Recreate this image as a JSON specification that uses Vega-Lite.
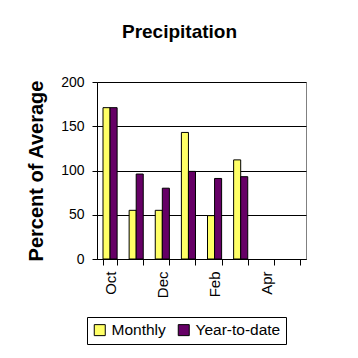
{
  "$schema": "https://vega.github.io/schema/vega-lite/v6.json",
  "autosize": "none",
  "width": 209,
  "height": 177,
  "padding": {"left": 97, "top": 82, "right": 52, "bottom": 99},
  "background": "white",
  "config": {
    "font": "Liberation Sans",
    "view": {"stroke": "#808080", "strokeWidth": 1}
  },
  "title": {
    "text": "Precipitation",
    "font": "Liberation Sans",
    "fontSize": 19,
    "fontWeight": "bold",
    "color": "black",
    "anchor": "middle",
    "dx": -22,
    "offset": 33
  },
  "data": {
    "values": [
      {"month": "Oct", "series": "Monthly", "value": 171},
      {"month": "Oct", "series": "Year-to-date", "value": 171},
      {"month": "Nov", "series": "Monthly", "value": 55},
      {"month": "Nov", "series": "Year-to-date", "value": 96},
      {"month": "Dec", "series": "Monthly", "value": 55},
      {"month": "Dec", "series": "Year-to-date", "value": 80},
      {"month": "Jan", "series": "Monthly", "value": 143},
      {"month": "Jan", "series": "Year-to-date", "value": 99},
      {"month": "Feb", "series": "Monthly", "value": 49},
      {"month": "Feb", "series": "Year-to-date", "value": 91},
      {"month": "Mar", "series": "Monthly", "value": 112},
      {"month": "Mar", "series": "Year-to-date", "value": 93}
    ]
  },
  "mark": {"type": "bar", "stroke": "black", "strokeWidth": 1},
  "encoding": {
    "x": {
      "field": "month",
      "type": "nominal",
      "sort": null,
      "scale": {"domain": ["Oct", "Nov", "Dec", "Jan", "Feb", "Mar", "Apr", "May"], "paddingInner": 0.46, "paddingOuter": 0.23},
      "axis": {
        "title": null,
        "labelAngle": -90,
        "labelAlign": "right",
        "labelBaseline": "middle",
        "labelFontSize": 15,
        "labelColor": "black",
        "labelPadding": 6,
        "labelExpr": "indexof(['Oct','Dec','Feb','Apr'], datum.value) >= 0 ? datum.value : ''",
        "tickBand": "extent",
        "tickSize": 6,
        "tickColor": "black",
        "domainColor": "black",
        "labelOverlap": false
      }
    },
    "xOffset": {"field": "series", "type": "nominal", "scale": {"paddingInner": 0, "paddingOuter": 0}},
    "y": {
      "field": "value",
      "type": "quantitative",
      "scale": {"domain": [0, 200]},
      "axis": {
        "title": "Percent of Average",
        "titleFontSize": 20,
        "titleFontWeight": "bold",
        "titleColor": "black",
        "titlePadding": 14,
        "values": [0, 50, 100, 150, 200],
        "labelFontSize": 14,
        "labelColor": "black",
        "labelPadding": 8,
        "tickSize": 5,
        "tickColor": "black",
        "domainColor": "black",
        "gridColor": "black",
        "gridOpacity": 1
      }
    },
    "fill": {
      "field": "series",
      "type": "nominal",
      "scale": {"domain": ["Monthly", "Year-to-date"], "range": ["#FFFF66", "#660066"]},
      "legend": {
        "title": null,
        "orient": "none",
        "direction": "horizontal",
        "legendX": -10,
        "legendY": 235,
        "strokeColor": "black",
        "padding": 5,
        "labelFontSize": 15.5,
        "labelColor": "black",
        "symbolType": "square",
        "symbolSize": 121,
        "symbolStrokeColor": "black",
        "symbolStrokeWidth": 1,
        "columnPadding": 10,
        "labelOffset": 4
      }
    }
  }
}
